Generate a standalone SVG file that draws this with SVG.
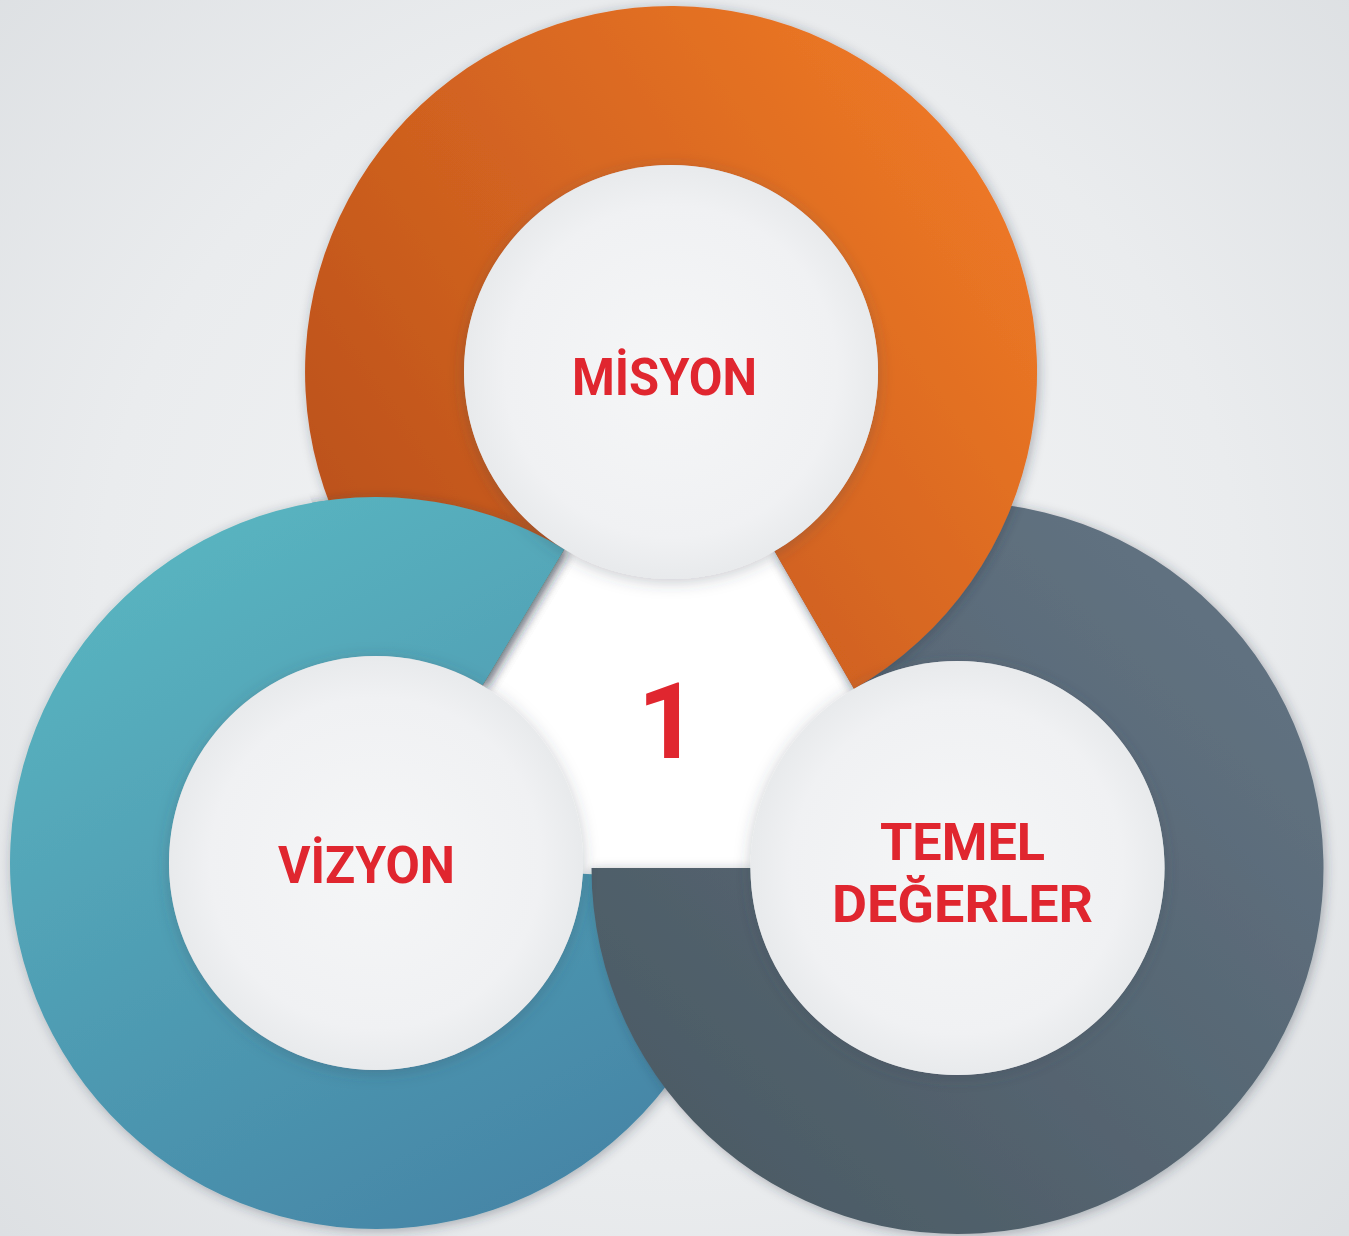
<svg xmlns="http://www.w3.org/2000/svg" width="1349" height="1236" viewBox="0 0 1349 1236">
  <defs>
    <radialGradient id="bg" cx="670" cy="600" r="950" gradientUnits="userSpaceOnUse">
      <stop offset="0" stop-color="#f4f5f6"/>
      <stop offset="0.6" stop-color="#eaecee"/>
      <stop offset="1" stop-color="#dcdfe2"/>
    </radialGradient>
    <linearGradient id="gOrange" x1="1000" y1="100" x2="340" y2="560" gradientUnits="userSpaceOnUse">
      <stop offset="0" stop-color="#f07a26"/>
      <stop offset="1" stop-color="#bb511b"/>
    </linearGradient>
    <linearGradient id="gTeal" x1="200" y1="520" x2="560" y2="1200" gradientUnits="userSpaceOnUse">
      <stop offset="0" stop-color="#59b4c0"/>
      <stop offset="1" stop-color="#4585a6"/>
    </linearGradient>
    <linearGradient id="gDark" x1="1200" y1="620" x2="700" y2="1150" gradientUnits="userSpaceOnUse">
      <stop offset="0" stop-color="#607180"/>
      <stop offset="1" stop-color="#4c5b65"/>
    </linearGradient>
    <radialGradient id="gInner" cx="0.5" cy="0.5" r="0.5">
      <stop offset="0" stop-color="#f5f6f7"/>
      <stop offset="0.8" stop-color="#f0f1f3"/>
      <stop offset="1" stop-color="#e8eaec"/>
    </radialGradient>
    <filter id="ringShadow" x="-20%" y="-20%" width="140%" height="140%">
      <feDropShadow dx="2" dy="2" stdDeviation="6" flood-color="#2a3540" flood-opacity="0.35"/>
    </filter>
    <filter id="innerShadow" x="-20%" y="-20%" width="140%" height="140%">
      <feDropShadow dx="0" dy="3" stdDeviation="8" flood-color="#3a4550" flood-opacity="0.28"/>
    </filter>
    <filter id="glow" x="-20%" y="-20%" width="140%" height="140%">
      <feGaussianBlur stdDeviation="10"/>
    </filter>
    <clipPath id="tealTop">
      <polygon points="200,430 600,430 600,560 520,705 200,705"/>
    </clipPath>
    <clipPath id="orangeArea">
      <circle cx="671" cy="372" r="382"/>
    </clipPath>
    <style>
      .lbl { font-family: Roboto, "Liberation Sans", sans-serif; font-weight: 700; fill: #e0262f; text-anchor: middle; }
    </style>
  </defs>

  <rect width="1349" height="1236" fill="url(#bg)"/>

  <!-- central white area -->
  <g id="center">
    <polygon points="671,372 366,882 968,882" fill="#ffffff" filter="url(#glow)"/>
    <polygon points="671,372 376,880 957.5,880" fill="#ffffff"/>
  </g>

  <g id="rings">
    <g id="vizyon-ring">
      <path d="M 741.5 882.2 A 366 366 0 1 1 564.5 549.3 L 482.6 685.6 A 207 207 0 1 0 582.7 873.8 Z" fill="url(#gTeal)" filter="url(#ringShadow)"/>
    </g>
    <g id="temel-ring">
      <path d="M 774.5 551 A 366 366 0 1 1 591.5 868 L 750.5 868 A 207 207 0 1 0 854 688.7 Z" fill="url(#gDark)" filter="url(#ringShadow)"/>
    </g>
    <g id="misyon-ring">
      <path d="M 482.5 685.7 A 366 366 0 1 1 854 689 L 774.5 551.3 A 207 207 0 1 0 564.4 549.4 Z" fill="url(#gOrange)" filter="url(#ringShadow)"/>
    </g>
    <g id="vizyon-ring-top" clip-path="url(#tealTop)">
      <g clip-path="url(#orangeArea)">
        <path d="M 741.5 882.2 A 366 366 0 1 1 564.5 549.3 L 482.6 685.6 A 207 207 0 1 0 582.7 873.8 Z" fill="url(#gTeal)" filter="url(#ringShadow)"/>
      </g>
    </g>
  </g>

  <g id="misyon">
    <circle cx="671" cy="372" r="207" fill="url(#gInner)" filter="url(#innerShadow)"/>
    <text class="lbl" x="664.5" y="395" font-size="52" textLength="185" lengthAdjust="spacingAndGlyphs">MİSYON</text>
  </g>
  <g id="vizyon">
    <circle cx="376" cy="863" r="207" fill="url(#gInner)" filter="url(#innerShadow)"/>
    <text class="lbl" x="366.5" y="883" font-size="52" textLength="177" lengthAdjust="spacingAndGlyphs">VİZYON</text>
  </g>
  <g id="temel-degerler">
    <circle cx="957.5" cy="868" r="207" fill="url(#gInner)" filter="url(#innerShadow)"/>
    <text class="lbl" x="962.5" y="860" font-size="52" textLength="165" lengthAdjust="spacingAndGlyphs">TEMEL</text>
    <text class="lbl" x="962.5" y="922" font-size="52" textLength="261" lengthAdjust="spacingAndGlyphs">DEĞERLER</text>
  </g>
  <g id="number">
    <text class="lbl" x="668" y="758" font-size="106">1</text>
  </g>
</svg>
